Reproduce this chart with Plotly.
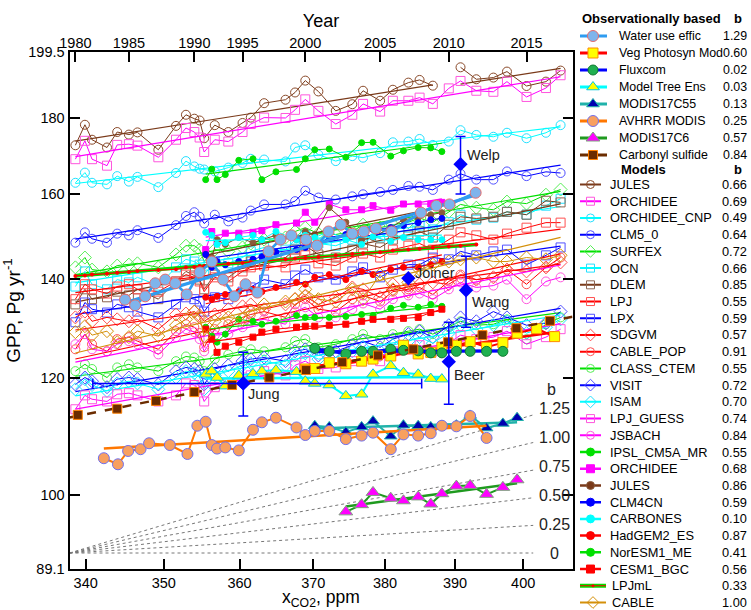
import math
import numpy as np
import plotly.graph_objects as go

FONT = "Liberation Sans, Arial, Helvetica, sans-serif"

# ---------------- axes / scales ----------------
years = list(range(1980, 2018))
co2_global = [338.7, 339.9, 340.8, 342.7, 344.0, 345.5, 346.6, 349.3, 351.6, 352.9,
              354.0, 354.7, 355.3, 356.7, 358.5, 360.4, 361.5, 363.3, 366.2, 367.5,
              368.9, 370.7, 373.1, 375.4, 376.9, 379.3, 381.1, 383.3, 384.9, 386.8,
              389.1, 390.8, 393.1, 395.6, 397.6, 400.5, 403.4, 405.6]
years_obs = list(range(1983, 2018))
co2_obs = [342.3, 344.1, 345.4, 347.0, 348.1, 350.8, 353.1, 354.4, 355.5, 356.3,
           357.0, 358.1, 359.9, 361.8, 363.0, 364.9, 367.7, 368.9, 370.2, 372.2,
           374.5, 376.7, 378.3, 380.8, 382.6, 384.7, 386.5, 388.1, 390.2, 392.2,
           394.6, 397.0, 399.1, 402.0, 404.7]

year_ticks = [1980, 1985, 1990, 1995, 2000, 2005, 2010, 2015]
co2_ticks = [340, 350, 360, 370, 380, 390, 400]
gpp_ticks = [89.1, 100, 120, 140, 160, 180, 199.5]
gpp_ticktext = ["89.1", "100", "120", "140", "160", "180", "199.5"]
X_MIN, X_MAX = 337.96, 407.4
Y_MIN, Y_MAX = 89.1, 199.5

# ---------------- TRENDY models (1980-2017) ----------------
jules = [172.5, 178.1, 174.0, 171.9, 176.1, 175.4, 176.0, 171.3, 177.8, 180.9, 179.8, 179.3, 174.4, 178.0, 176.1, 178.6, 180.1, 184.2, 185.2, 187.3, 190.8, 187.6, 182.0, 183.9, 187.8, 184.9, 188.1, 190.2, 191.0, 189.3, None, 194.8, 191.2, 191.7, 193.5, 189.2, 190.5, 193.8]
orchidee = [168.8, 173.7, 168.8, 167.1, 172.6, 172.8, 172.4, 169.3, 174.0, 177.2, 176.1, 174.6, 170.7, 174.0, 173.5, 176.1, 178.3, 180.1, 180.0, 182.3, 185.3, 182.0, 178.3, 180.9, 184.0, 181.8, 184.9, 184.9, 185.8, 184.0, 188.5, 190.7, 187.8, 187.5, 190.5, 186.0, 188.6, 192.4]
orchidee_cnp = [162.7, 165.3, 162.7, 162.3, 164.4, 163.0, 164.2, 161.6, 165.2, 168.3, 166.9, 166.3, 166.1, 165.6, 166.6, 167.8, 168.9, 168.7, 168.2, 171.9, 172.5, 170.0, 168.3, 169.6, 169.2, 170.4, 173.3, 173.5, 174.2, 172.6, 173.5, 176.6, 175.3, 174.8, 175.9, 174.4, 175.9, 178.0]
clm5 = [148.2, 150.6, 149.1, 148.2, 150.3, 149.9, 151.1, 149.3, 152.3, 154.5, 155.4, 154.3, 152.7, 154.8, 153.2, 154.1, 155.8, 157.3, 157.3, 158.1, 160.7, 159.0, 158.5, 159.3, 159.8, 160.4, 160.9, 161.9, 161.7, 160.9, 163.5, 165.0, 163.5, 163.5, 165.6, 164.4, 165.5, 165.2]
surfex = [142.6, 144.8, 142.1, 141.7, 143.0, 143.2, 143.5, 142.6, 145.5, 147.5, 147.5, 146.6, 143.9, 146.6, 146.2, 147.1, 148.0, 148.9, 149.4, 150.8, 151.7, 150.3, 150.1, 150.8, 152.4, 151.7, 152.4, 153.0, 154.0, 153.0, 155.5, 157.3, 156.5, 156.0, 158.0, 157.5, 159.7, 161.0]
ocn = [138.4, 141.7, 138.9, 137.8, 139.9, 139.3, 140.4, 138.6, 142.6, 144.4, 143.9, 143.2, 141.0, 143.9, 143.5, 144.8, 146.2, 147.1, 146.6, 148.9, 149.9, 148.0, 147.5, 148.9, 149.9, 149.4, 151.3, 151.7, 152.2, 151.3, 153.0, 154.8, 153.6, 154.1, 155.5, 154.8, 157.0, 158.7]
dlem = [134.6, 137.8, 135.7, 136.1, 137.3, 136.5, 137.8, 135.7, 139.5, 141.7, 140.8, 139.9, 137.8, 141.0, 140.4, 142.6, 143.9, 143.9, 144.8, 146.6, 147.5, 145.5, 144.8, 146.6, 148.0, 147.1, 148.9, 149.9, 150.8, 149.4, 152.4, 154.3, 153.9, 154.3, 155.5, 154.8, 158.2, 157.8]
lpj = [135.7, 138.9, 137.8, 136.9, 138.4, 138.9, 137.8, 137.3, 139.5, 141.0, 140.4, 139.5, 137.3, 140.4, 139.5, 141.7, 142.6, 143.0, 142.6, 144.8, 145.3, 143.5, 143.0, 144.8, 145.7, 144.8, 146.6, 147.5, 148.0, 146.6, 148.9, 150.6, 149.9, 148.9, 150.3, 151.7, 152.9, 152.9]
lpx = [130.9, 135.0, 133.6, 132.9, 134.6, 134.0, 133.1, 131.9, 134.6, 136.1, 135.7, 135.2, 133.1, 136.1, 135.7, 137.3, 138.2, 139.9, 138.9, 140.8, 142.1, 140.4, 139.9, 141.7, 142.6, 140.4, 142.1, 143.2, 143.2, 144.8, 144.4, 146.2, 145.3, 146.2, 146.6, 143.2, 145.3, 147.1]
sdgvm = [131.9, 133.1, 131.1, 131.9, 131.5, 131.1, 131.5, 129.5, 132.5, 132.7, 133.1, 132.3, 131.1, 132.5, 133.6, 134.2, 134.6, 133.6, 134.6, 135.7, 136.3, 134.6, 136.1, 138.2, 137.8, 136.1, 138.9, 137.3, 138.9, 139.3, 138.9, 140.4, 139.9, 140.4, 142.1, 141.7, 142.6, 143.7]
cable_pop = [125.5, 128.5, 126.5, 125.1, 127.5, 127.9, 127.1, 125.5, 129.1, 130.5, 129.9, 128.7, 125.9, 129.5, 130.5, 131.9, 132.5, 133.1, 131.9, 134.6, 135.7, 133.6, 133.1, 135.7, 136.5, 135.2, 137.3, 137.8, 138.2, 136.7, 139.5, 141.0, 139.9, 140.4, 142.1, 138.9, 142.6, 144.8]
class_ctem = [121.3, 122.6, 121.7, 120.1, 122.0, 122.6, 122.0, 121.3, 123.2, 124.1, 123.9, 123.2, 121.3, 123.6, 124.5, 125.1, 125.5, 125.1, 125.9, 127.1, 127.5, 125.9, 126.5, 127.5, 128.5, 127.5, 128.5, 129.1, 129.5, 128.5, 129.9, 131.1, 130.3, 130.5, 131.5, 127.5, 130.5, 131.9]
visit = [118.8, 120.1, 119.4, 118.3, 119.8, 120.1, 119.8, 118.8, 121.3, 122.0, 121.7, 121.3, 118.8, 121.7, 122.4, 123.2, 123.6, 123.9, 123.2, 125.1, 125.5, 124.3, 125.1, 126.3, 127.1, 125.9, 127.5, 128.5, 129.1, 127.9, 130.3, 131.9, 131.1, 133.1, 131.9, 130.3, 130.7, 133.1]
isam = [117.9, 119.8, 118.7, 117.6, 119.0, 119.4, 119.0, 117.9, 120.1, 121.3, 120.9, 120.1, 117.9, 120.5, 121.3, 122.4, 122.8, 123.2, 122.4, 124.3, 124.7, 123.6, 123.9, 125.1, 125.9, 125.1, 126.3, 127.1, 127.9, 126.7, 128.7, 130.3, 129.5, 130.3, 131.1, 128.7, 129.9, 131.5]
lpj_guess = [114.3, 116.8, 116.1, 115.7, 117.0, 117.2, 116.8, 115.7, 116.8, 119.0, 118.7, 117.9, 115.7, 118.3, 119.0, 120.1, 120.5, 121.3, 120.5, 122.4, 123.2, 121.7, 122.0, 123.2, 124.3, 123.2, 125.1, 125.5, 126.3, 125.1, 126.7, 128.3, 127.5, 127.9, 129.1, 126.5, 127.9, 129.5]
jsbach = [126.5, 128.5, 125.5, 125.1, 126.5, 127.1, 126.5, 124.5, 127.9, 129.5, 128.9, 127.5, 125.1, 128.3, 128.5, 129.9, 131.1, 131.5, 130.5, 133.1, 134.0, 131.9, 131.9, 133.6, 134.8, 133.6, 135.7, 136.5, 136.9, 135.7, 137.8, 139.3, 138.2, 138.6, 139.9, 135.7, 139.5, 140.4]
cable = [128.9, 130.1, 128.3, 129.1, 126.9, 127.9, 129.1, 128.1, 130.3, 131.5, 133.1, 131.9, 128.1, 131.1, 131.9, 131.5, 133.1, 134.6, 135.2, 135.7, 137.8, 135.7, 135.2, 137.8, 135.7, 141.0, 137.8, 139.3, 142.1, 143.2, 143.9, 144.4, 144.8, 143.9, 143.9, 144.8, 144.4, 145.3]
lpjml = [140.7, 140.8, 141.0, 141.2, 141.4, 141.6, 141.8, 142.0, 142.2, 142.6, 142.7, 142.9, 142.9, 143.1, 143.4, 143.6, 143.8, 144.0, 144.4, 144.6, 144.7, 144.9, 145.3, 145.6, 145.8, 146.0, 146.4, 146.6, 146.8, 147.1, 147.3, 147.5, 147.8]  # 1980-2012

# ---------------- CMIP5 ESMs (1991-2010, obs CO2 scale) ----------------
ipsl = [163.5, 166.2, 163.5, 164.8, 168.5, 168.9, 163.5, 165.5, 166.1, 168.9, 171.3, 171.5, 169.3, 173.2, 173.3, 169.6, 171.0, 171.9, 171.8, 170.8]
orchidee_esm = [146.6, 150.8, 148.2, 150.4, 150.4, 150.6, 151.0, 152.4, 152.8, 155.4, 153.0, 157.4, 156.0, 156.0, 157.0, 155.9, 157.4, 157.4, 157.4, 157.8]
jules_esm = [145.5, 144.8, 148.9, 147.8, 149.4, 148.2, 148.9, 149.9, 148.9, 150.8, 150.1, 156.5, 153.0, 148.9, 149.4, 151.7, 153.6, 154.1, 154.8, 155.3]
clm4cn = [145.5, 142.6, 143.9, 143.2, 143.9, 144.4, 145.0, 146.0, 146.6, 147.1, 147.5, 149.4, 150.1, 150.8, 151.3, 151.7, 152.2, 152.9, 153.6, 153.9]
carbones = [150.6, 149.9, 147.8, 148.2, 149.4, 149.9, 148.9, 150.8, 148.9, 149.9, 149.4, 150.8, 148.9, 147.8, 149.6, 148.5, 149.4, 148.9, 148.9, 148.9]
hadgem = [136.1, 135.7, 136.3, 136.7, 137.3, 137.8, 137.3, 138.2, 139.3, 138.9, 140.4, 141.0, 139.9, 141.7, 141.0, 142.1, 142.6, 142.6, 143.2, 143.9]
noresm = [129.9, 128.1, 126.9, 128.5, 131.5, 131.1, 130.5, 131.1, 132.3, 131.9, 131.9, 131.9, 132.1, 132.5, 132.3, 133.8, 134.4, 134.0, 134.6, 134.2]
cesm = [129.5, 127.5, 124.9, 126.1, 126.9, 127.9, 128.9, 129.5, 129.9, 130.1, 130.1, 130.3, 130.5, 131.1, 131.5, 131.5, 131.7, 131.9, 132.9, 133.6]

# ---------------- observationally based ----------------
wue_co2 = [345.0, 346.3, 347.6, 348.9, 350.2, 351.5, 353.0, 354.7, 356.3, 357.8, 359.3, 360.8, 362.4, 363.9, 365.5, 367.0, 369.0, 370.5, 372.1, 373.8, 375.4, 377.0, 378.7, 380.9, 385.1, 387.3, 389.2, 393.0]
wue_gpp = [135.6, 134.4, 136.3, 139.1, 139.9, 139.1, 136.7, 141.5, 143.9, 139.9, 136.3, 138.9, 137.1, 146.2, 148.9, 149.9, 148.9, 147.5, 150.8, 152.4, 150.3, 150.8, 151.5, 150.8, 155.3, 157.0, 157.3, 160.2]
vpm = [121.7, 121.8, 122.9, 122.7, 123.2, 123.6, 124.2, 126.3, 124.6, 124.9, 125.9, 126.3, 127.0, 125.9, 126.8, 128.7, 129.6, 128.0]  # 2000-2017
fluxcom = [125.7, 125.1, 124.6, 125.1, 125.1, 125.5, 125.3, 125.2, 124.8, 124.8, 125.1, 125.1, 125.1, 125.1]  # 2001-2014
mte = [120.7, 121.3, 120.1, 118.5, 120.5, 120.8, 121.3, 121.5, 121.2, 119.4, 119.0, 118.7, 116.7, 117.0, 120.7, 122.3, 121.0, 120.7, 119.9, 119.8]  # 1991-2010
modis55 = [111.4, 111.2, 110.3, 111.2, 112.2, 109.6, 111.5, 111.4, 111.2, 111.4, 111.5, 113.2, 111.0, 111.8, 112.8]  # 2001-2015
avhrr = [105.9, 104.9, 107.1, 107.4, 108.4, 108.1, 106.6, 111.4, 112.1, 108.1, 107.5, 107.7, 107.2, 110.7, 112.0, 112.8, 111.1, 109.8, 110.5, 110.5, 109.1, 109.7, 110.2, 107.4, 109.9, 109.7, 110.1, 111.4, 111.3, 113.1, 109.3]  # 1983-2013
modis6 = [97.4, 98.5, 100.4, 99.5, 99.1, 99.7, 98.6, 100.2, 101.4, 101.5, 100.1, 101.2, 102.4]  # 2003-2015
cos_co2 = [339, 344, 349, 354, 359, 364, 369, 374, 379, 384, 389, 394, 399, 404]
cos_gpp = [113.3, 114.4, 115.8, 117.4, 118.7, 120.1, 121.5, 123.0, 124.3, 125.5, 126.9, 128.3, 129.7, 131.2]

# ---------------- literature estimates ----------------
est_names = ["Welp", "Joiner", "Wang", "Beer", "Jung"]
est_co2 = [390.8, 383.3, 391.6, 389.1, 360.5]
est_gpp = [167.5, 140.2, 137.6, 123.1, 119.0]
est_up = [7.4, 0, 7.5, 7.8, 5.9]
est_down = [7.6, 0, 7.7, 7.9, 5.9]
jung_co2_lo, jung_co2_hi = 340.9, 385.2

# reference slopes
ref_b = [0, 0.25, 0.5, 0.75, 1.0, 1.25]
ref_labels = ["0", "0.25", "0.50", "0.75", "1.00", "1.25"]
REF_GPP0 = 91.35

# ---------------- helpers ----------------
def xs(start, n, scale):
    if scale == "g":
        i = years.index(start)
        return co2_global[i:i + n]
    i = years_obs.index(start)
    return co2_obs[i:i + n]


def trend(x, y, b, full=False):
    segs, cur = [], []
    for xi, yi in zip(x, y):
        if yi is None:
            if cur:
                segs.append(cur)
            cur = []
        else:
            cur.append((xi, yi))
    if cur:
        segs.append(cur)
    out = []
    for s in segs:
        if len(s) < 2:
            continue
        lx = np.log([p[0] for p in s])
        ly = np.log([p[1] for p in s])
        c = ly.mean() - b * lx.mean()
        x0, x1 = (X_MIN, X_MAX) if full else (s[0][0], s[-1][0])
        out.append(([x0, x1], [math.exp(c) * x0 ** b, math.exp(c) * x1 ** b]))
    return out


BROWN = "#7a3a1a"
MAG = "#ff00ff"
CYAN = "#00ffff"
BLUE = "#0000ff"
GREEN = "#00e000"
RED = "#ff0000"
GOLD = "#d4900a"

# model specs: name, y, start, scale, b, color, symbol, size, edge
models = [
    ("JULES", jules, 1980, "g", 0.66, BROWN, "circle-open", 9, "#8a4a2a"),
    ("ORCHIDEE", orchidee, 1980, "g", 0.69, MAG, "square-open", 9, "#ff55dd"),
    ("ORCHIDEE_CNP", orchidee_cnp, 1980, "g", 0.49, CYAN, "circle-open", 9, "#22e0ff"),
    ("CLM5_0", clm5, 1980, "g", 0.64, BLUE, "circle-open", 9, "#5050ff"),
    ("SURFEX", surfex, 1980, "g", 0.72, GREEN, "diamond-open", 10, "#55ee55"),
    ("OCN", ocn, 1980, "g", 0.66, CYAN, "square-open", 9, "#22e0ff"),
    ("DLEM", dlem, 1980, "g", 0.85, BROWN, "square-open", 9, "#8c6450"),
    ("LPJ", lpj, 1980, "g", 0.55, RED, "square-open", 9, "#ff5050"),
    ("LPX", lpx, 1980, "g", 0.59, BLUE, "square-open", 9, "#5050ff"),
    ("SDGVM", sdgvm, 1980, "g", 0.57, RED, "diamond-open", 10, "#ff5050"),
    ("CABLE_POP", cable_pop, 1980, "g", 0.91, RED, "circle-open", 9, "#ff5050"),
    ("CLASS_CTEM", class_ctem, 1980, "g", 0.55, GREEN, "circle-open", 9, "#55ee55"),
    ("VISIT", visit, 1980, "g", 0.72, BLUE, "diamond-open", 10, "#5050ff"),
    ("ISAM", isam, 1980, "g", 0.70, CYAN, "diamond-open", 10, "#22e0ff"),
    ("LPJ_GUESS", lpj_guess, 1980, "g", 0.74, MAG, "square-open", 9, "#ff55dd"),
    ("JSBACH", jsbach, 1980, "g", 0.84, MAG, "circle-open", 9, "#ff55dd"),
    ("IPSL_CM5A_MR", ipsl, 1991, "o", 0.55, GREEN, "circle", 6, GREEN),
    ("ORCHIDEE", orchidee_esm, 1991, "o", 0.68, MAG, "square", 6, MAG),
    ("JULES", jules_esm, 1991, "o", 0.86, BROWN, "circle", 6, "#8a5a3a"),
    ("CLM4CN", clm4cn, 1991, "o", 0.59, BLUE, "circle", 6, BLUE),
    ("CARBONES", carbones, 1991, "o", 0.10, CYAN, "circle", 6, CYAN),
    ("HadGEM2_ES", hadgem, 1991, "o", 0.87, RED, "circle", 6, RED),
    ("NorESM1_ME", noresm, 1991, "o", 0.41, GREEN, "circle", 6, GREEN),
    ("CESM1_BGC", cesm, 1991, "o", 0.56, RED, "square", 6, RED),
    ("LPJmL", lpjml, 1980, "g", 0.33, RED, "circle", 4, RED),
    ("CABLE", cable, 1980, "g", 1.00, GOLD, "diamond-open", 10, GOLD),
]

# obs specs: name, x, y, b, line color, width, symbol, size, fill, edge, dash
obs = [
    ("Water use effic", wue_co2, wue_gpp, 1.29, "#2f9cf0", 3.2, "circle", 11, "#7fb4ec", "#e86a6a", "solid"),
    ("Veg Photosyn Mod", xs(2000, len(vpm), "o"), vpm, 0.60, RED, 2.5, "square", 10, "#ffff00", "#ff8c00", "solid"),
    ("Fluxcom", xs(2001, len(fluxcom), "o"), fluxcom, 0.02, BLUE, 3, "circle", 10, "#20b050", "#107a30", "solid"),
    ("Model Tree Ens", xs(1991, len(mte), "o"), mte, 0.03, CYAN, 2.5, "triangle-up", 11, "#ffff00", "#00c8e0", "solid"),
    ("MODIS17C55", xs(2001, len(modis55), "o"), modis55, 0.13, "#20b2aa", 2.5, "triangle-up", 11, "#0000b0", "#20b2aa", "solid"),
    ("AVHRR MODIS", xs(1983, len(avhrr), "o"), avhrr, 0.25, "#ff7700", 2.5, "circle", 11, "#f8a060", "#7070ee", "solid"),
    ("MODIS17C6", xs(2003, len(modis6), "o"), modis6, 0.57, "#1f9a1f", 2.5, "triangle-up", 12, "#ff00ff", "#80a080", "solid"),
    ("Carbonyl sulfide", cos_co2, cos_gpp, 0.84, "#6b2c00", 2.5, "square", 9, "#6b2c00", "#ff8000", "dash"),
]

fig = go.Figure()

# reference slope lines
for b in ref_b:
    xr = [X_MIN, 401.5]
    fig.add_trace(go.Scatter(x=xr, y=[REF_GPP0 * (v / X_MIN) ** b for v in xr], mode="lines",
                             line=dict(color="#777777", width=1, dash="dot"), hoverinfo="skip"))

# model traces
for name, y, start, scale, b, col, sym, size, edge in models:
    x = xs(start, len(y), scale)
    if name == "LPJmL":
        for tx, ty in trend(x, y, b):
            fig.add_trace(go.Scatter(x=tx, y=ty, mode="lines", line=dict(color=GREEN, width=3.5), hoverinfo="skip"))
        fig.add_trace(go.Scatter(x=x, y=y, mode="lines+markers", line=dict(color=RED, width=1.3),
                                 marker=dict(symbol="circle", size=4, color=RED), hoverinfo="skip"))
        continue
    fig.add_trace(go.Scatter(x=x, y=y, mode="lines+markers", connectgaps=False,
                             line=dict(color=col, width=1),
                             marker=dict(symbol=sym, size=size, color=edge, line=dict(width=1, color=edge)),
                             hoverinfo="skip"))
    for tx, ty in trend(x, y, b):
        fig.add_trace(go.Scatter(x=tx, y=ty, mode="lines", line=dict(color=col, width=1.2), hoverinfo="skip"))

# obs traces
for name, x, y, b, col, w, sym, size, fill, edge, dash in obs:
    if name == "Carbonyl sulfide":
        for tx, ty in trend(x, y, b, full=True):
            fig.add_trace(go.Scatter(x=tx, y=ty, mode="lines", line=dict(color=col, width=w, dash="dash"), hoverinfo="skip"))
        fig.add_trace(go.Scatter(x=x, y=y, mode="markers",
                                 marker=dict(symbol=sym, size=size, color=fill, line=dict(width=1, color=edge)), hoverinfo="skip"))
        continue
    for tx, ty in trend(x, y, b):
        fig.add_trace(go.Scatter(x=tx, y=ty, mode="lines", line=dict(color=col, width=w), hoverinfo="skip"))
    fig.add_trace(go.Scatter(x=x, y=y, mode="lines+markers", line=dict(color=col, width=w - 0.5),
                             marker=dict(symbol=sym, size=size, color=fill, line=dict(width=1, color=edge)),
                             hoverinfo="skip"))

# literature estimates
fig.add_trace(go.Scatter(
    x=est_co2, y=est_gpp, mode="markers",
    marker=dict(symbol="diamond", size=11, color=BLUE),
    error_y=dict(type="data", symmetric=False, array=est_up, arrayminus=est_down,
                 color=BLUE, thickness=1.5, width=5),
    hoverinfo="skip"))
fig.add_trace(go.Scatter(
    x=[est_co2[4]], y=[est_gpp[4]], mode="markers",
    marker=dict(symbol="diamond", size=11, color=BLUE),
    error_x=dict(type="data", symmetric=False, array=[jung_co2_hi - est_co2[4]],
                 arrayminus=[est_co2[4] - jung_co2_lo], color=BLUE, thickness=1.5, width=5),
    hoverinfo="skip"))

# invisible trace on top axis
fig.add_trace(go.Scatter(x=[co2_global[0]], y=[150], xaxis="x2", yaxis="y", mode="markers",
                         marker=dict(opacity=0), hoverinfo="skip"))

annotations = []
shifts = {"Welp": (4, 9), "Joiner": (5, 5), "Wang": (4, -12), "Beer": (3, -13), "Jung": (3, -11)}
for n, cx, gy in zip(est_names, est_co2, est_gpp):
    dx, dy = shifts[n]
    annotations.append(dict(x=math.log10(cx), y=math.log10(gy), xref="x", yref="y", text=n,
                            showarrow=False, xanchor="left", yanchor="middle", xshift=dx, yshift=dy,
                            font=dict(size=14.5, color="#222222", family=FONT)))

LBL_X = 404.7
for b, lab in zip(ref_b, ref_labels):
    gy = REF_GPP0 * (LBL_X / X_MIN) ** b
    annotations.append(dict(x=math.log10(LBL_X), y=math.log10(gy), xref="x", yref="y", text=lab,
                            showarrow=False, xanchor="center", yanchor="middle",
                            font=dict(size=16, color="#222222", family=FONT)))
annotations.append(dict(x=math.log10(LBL_X - 0.5), y=math.log10(117.9), xref="x", yref="y", text="b",
                        showarrow=False, xanchor="center", yanchor="middle",
                        font=dict(size=16, color="#222222", family=FONT)))

# x-axis title placed as text below the tick labels
annotations.append(dict(x=321 / 751, y=1 - 598 / 610, xref="paper", yref="paper",
                        text="x<sub>CO2</sub>, ppm", showarrow=False, xanchor="center", yanchor="middle",
                        font=dict(size=17.5, family=FONT, color="black")))

# ---------------- custom legend (x3/y3 in pixel units) ----------------
LFS = 12.4
annotations.append(dict(x=580, y=18, xref="x3", yref="y3", text="<b>Observationally based</b>",
                        showarrow=False, xanchor="left", yanchor="middle", font=dict(size=13, family=FONT)))
annotations.append(dict(x=738, y=18, xref="x3", yref="y3", text="<b>b</b>",
                        showarrow=False, xanchor="center", yanchor="middle", font=dict(size=13, family=FONT)))
for i, (name, x, y, b, col, w, sym, size, fill, edge, dash) in enumerate(obs):
    ry = 36 + 17 * i
    fig.add_trace(go.Scatter(x=[580, 607], y=[ry, ry], xaxis="x3", yaxis="y3", mode="lines",
                             line=dict(color=col, width=3, dash=dash), hoverinfo="skip"))
    fig.add_trace(go.Scatter(x=[593], y=[ry], xaxis="x3", yaxis="y3", mode="markers",
                             marker=dict(symbol=sym, size=size, color=fill, line=dict(width=1, color=edge)),
                             hoverinfo="skip"))
    annotations.append(dict(x=617, y=ry, xref="x3", yref="y3", text=name, showarrow=False,
                            xanchor="left", yanchor="middle", font=dict(size=LFS, family=FONT)))
    annotations.append(dict(x=749, y=ry, xref="x3", yref="y3", text=f"{b:.2f}", showarrow=False,
                            xanchor="right", yanchor="middle", font=dict(size=LFS, family=FONT)))

annotations.append(dict(x=643, y=169.5, xref="x3", yref="y3", text="<b>Models</b>",
                        showarrow=False, xanchor="center", yanchor="middle", font=dict(size=13, family=FONT)))
annotations.append(dict(x=738, y=169.5, xref="x3", yref="y3", text="<b>b</b>",
                        showarrow=False, xanchor="center", yanchor="middle", font=dict(size=13, family=FONT)))
for i, (name, y, start, scale, b, col, sym, size, edge) in enumerate(models):
    ry = 184.5 + 16.72 * i
    x1 = 606 if name in ("CABLE", "LPJmL") else 601
    if name == "LPJmL":
        fig.add_trace(go.Scatter(x=[580, x1], y=[ry, ry], xaxis="x3", yaxis="y3", mode="lines",
                                 line=dict(color=GREEN, width=4), hoverinfo="skip"))
        fig.add_trace(go.Scatter(x=[580, x1], y=[ry, ry], xaxis="x3", yaxis="y3", mode="lines",
                                 line=dict(color=RED, width=1), hoverinfo="skip"))
        fig.add_trace(go.Scatter(x=[593], y=[ry], xaxis="x3", yaxis="y3", mode="markers",
                                 marker=dict(symbol="circle", size=3, color=RED), hoverinfo="skip"))
    else:
        lw = 2.5 if sym in ("circle", "square") else 2
        fig.add_trace(go.Scatter(x=[580, x1], y=[ry, ry], xaxis="x3", yaxis="y3", mode="lines",
                                 line=dict(color=col, width=lw), hoverinfo="skip"))
        fig.add_trace(go.Scatter(x=[(580 + x1) / 2], y=[ry], xaxis="x3", yaxis="y3", mode="markers",
                                 marker=dict(symbol=sym, size=size - 1 if "open" in sym else 8,
                                             color=edge if "open" in sym else col,
                                             line=dict(width=1, color=edge)),
                                 hoverinfo="skip"))
    tx = 610 if name in ("CABLE", "LPJmL") else 607.5
    annotations.append(dict(x=tx, y=ry, xref="x3", yref="y3", text=name, showarrow=False,
                            xanchor="left", yanchor="middle", font=dict(size=12.8, family=FONT)))
    annotations.append(dict(x=749, y=ry, xref="x3", yref="y3", text=f"{b:.2f}", showarrow=False,
                            xanchor="right", yanchor="middle", font=dict(size=12.8, family=FONT)))

xr = [math.log10(X_MIN), math.log10(X_MAX)]
XD = [69.5 / 751, 572.5 / 751]
axis_common = dict(showgrid=False, zeroline=False, ticks="inside", ticklen=10, tickwidth=1.5,
                   tickcolor="black", automargin=False, tickfont=dict(size=14.5, family=FONT, color="black"))
fig.update_layout(
    template="none",
    width=751, height=610, margin=dict(l=0, r=0, t=0, b=0),
    paper_bgcolor="white", plot_bgcolor="white", showlegend=False,
    font=dict(family=FONT, size=14, color="black"),
    xaxis=dict(type="log", range=xr, domain=XD, tickvals=co2_ticks, ticktext=[str(v) for v in co2_ticks],
               showline=True, linewidth=2, linecolor="black", mirror=True, anchor="y",
               **axis_common),
    xaxis2=dict(type="log", range=xr, overlaying="x", side="top", anchor="y",
                tickvals=[co2_global[years.index(yv)] for yv in year_ticks],
                ticktext=[str(yv) for yv in year_ticks], showline=False,
                title=dict(text="Year", font=dict(size=18, family=FONT), standoff=2),
                **axis_common),
    yaxis=dict(type="log", range=[math.log10(Y_MIN), math.log10(Y_MAX)], domain=[41 / 610, 558 / 610],
               tickvals=gpp_ticks, ticktext=gpp_ticktext, showline=True, linewidth=2, linecolor="black",
               mirror="ticks", anchor="x",
               title=dict(text="GPP, Pg yr<sup>-1</sup>", font=dict(size=19, family=FONT), standoff=4),
               **axis_common),
    xaxis3=dict(domain=[575.3 / 751, 1], range=[575.3, 751], visible=False, anchor="y3", fixedrange=True),
    yaxis3=dict(domain=[0, 1], range=[610, 0], visible=False, anchor="x3", fixedrange=True),
    annotations=annotations,
)

fig.write_html("out.html")
